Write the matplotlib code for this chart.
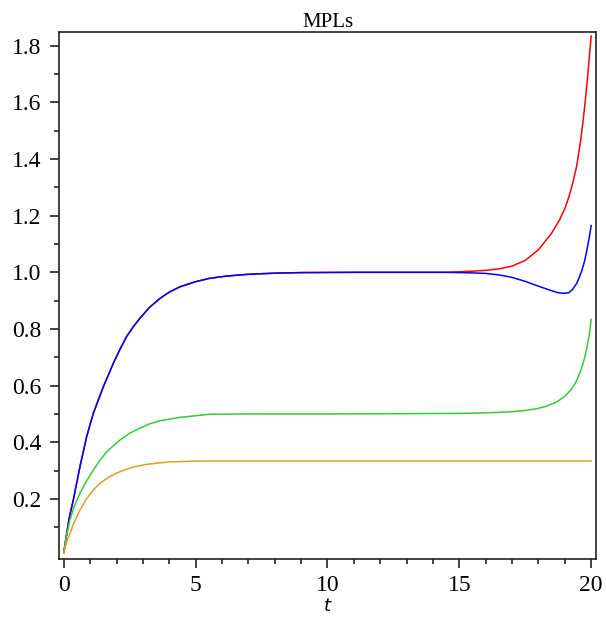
import matplotlib
matplotlib.use("Agg")
import matplotlib.pyplot as plt
from matplotlib.ticker import MultipleLocator, FixedLocator

# valores
t_rb = [0, 0.1, 0.2, 0.36, 0.614, 0.868, 1.12, 1.5, 1.88, 2.13, 2.38, 2.63, 2.89,
        3.25, 3.65, 4.0, 4.41, 5.0, 5.54, 6.2, 7.0, 8.0, 9, 11, 13, 14.5]
rb_ini = [0.0105, 0.07, 0.13, 0.196, 0.314, 0.42, 0.502, 0.596, 0.679, 0.728, 0.773,
          0.807, 0.838, 0.876, 0.908, 0.93, 0.949, 0.967, 0.979, 0.987, 0.993,
          0.997, 0.999, 1.0, 1.0, 1.0]

t_red_fin = [15, 15.5, 16, 16.5, 17, 17.5, 18.0, 18.5, 18.8, 19.0, 19.15, 19.3, 19.45,
             19.6, 19.7, 19.78, 19.85, 19.92, 20]
red_fin = [1.002, 1.004, 1.007, 1.012, 1.022, 1.042, 1.08, 1.138, 1.185, 1.225, 1.265,
           1.315, 1.375, 1.465, 1.54, 1.61, 1.675, 1.75, 1.834]

t_blue_fin = [15, 15.5, 16, 16.5, 17, 17.5, 18.0, 18.5, 18.75, 18.95, 19.15, 19.3,
              19.45, 19.55, 19.65, 19.75, 19.83, 19.92, 20]
blue_fin = [0.999, 0.998, 0.996, 0.991, 0.982, 0.968, 0.951, 0.935, 0.928, 0.926,
            0.928, 0.94, 0.961, 0.982, 1.008, 1.04, 1.075, 1.12, 1.165]

t_green = [0, 0.1, 0.235, 0.4, 0.614, 0.86, 1.12, 1.37, 1.63, 2.13, 2.5, 2.89, 3.25,
           3.65, 4.41, 5.54, 7, 10, 15, 16, 16.8, 17.4, 17.9, 18.3, 18.7, 19.0,
           19.25, 19.42, 19.57, 19.7, 19.82, 19.92, 20]
green = [0.0105, 0.07, 0.126, 0.175, 0.22, 0.263, 0.302, 0.336, 0.367, 0.408, 0.432,
         0.45, 0.465, 0.476, 0.488, 0.499, 0.5, 0.5, 0.502, 0.504, 0.507, 0.511, 0.518,
         0.527, 0.543, 0.562, 0.587, 0.612, 0.644, 0.68, 0.726, 0.775, 0.834]

t_orange = [0, 0.1, 0.235, 0.4, 0.614, 0.86, 1.12, 1.42, 1.75, 2.05, 2.38, 2.75, 3.14,
            3.6, 4.03, 4.8, 5.54, 7, 20]
orange = [0.0105, 0.045, 0.079, 0.118, 0.161, 0.2, 0.232, 0.259, 0.279, 0.293, 0.305,
          0.315, 0.322, 0.327, 0.331, 0.333, 0.334, 0.334, 0.334]

xticks = [0, 5, 10, 15, 20]
yticks = [0.2, 0.4, 0.6, 0.8, 1.0, 1.2, 1.4, 1.6, 1.8]

plt.rcParams['font.family'] = ['Liberation Serif', 'DejaVu Serif']

fig = plt.figure(figsize=(6.06, 6.17), dpi=100)
ax = fig.add_axes([0.0974, 0.094, 0.886, 0.854])

ax.plot(t_rb + t_red_fin, rb_ini + red_fin, color='#ff0000', lw=1.1)
ax.plot(t_rb + t_blue_fin, rb_ini + blue_fin, color='#0000ff', lw=1.1)
ax.plot(t_green, green, color='#33cc33', lw=1.1)
ax.plot(t_orange, orange, color='#e0a020', lw=1.1)

ax.set_xlim(-0.18, 20.18)
ax.set_ylim(-0.012, 1.848)
ax.set_xticks(xticks)
ax.set_xticklabels([str(v) for v in xticks])
ax.set_yticks(yticks)
ax.set_yticklabels(['%.1f' % v for v in yticks])
ax.xaxis.set_minor_locator(MultipleLocator(1))
ax.yaxis.set_minor_locator(FixedLocator([0.1, 0.3, 0.5, 0.7, 0.9, 1.1, 1.3, 1.5, 1.7]))

ax.tick_params(which='major', length=6.5, width=1.2, labelsize=17, color='#222222')
ax.tick_params(which='minor', length=3.6, width=1.2, color='#222222')
ax.tick_params(axis='y', pad=6)
ax.tick_params(axis='x', pad=5)
for s in ax.spines.values():
    s.set_linewidth(1.2)
    s.set_color('#222222')

ax.set_title('MPLs', fontsize=15, pad=4)
ax.set_xlabel('t', fontsize=13, style='italic', family='DejaVu Sans', labelpad=1)

fig.savefig('out.png', dpi=100)
